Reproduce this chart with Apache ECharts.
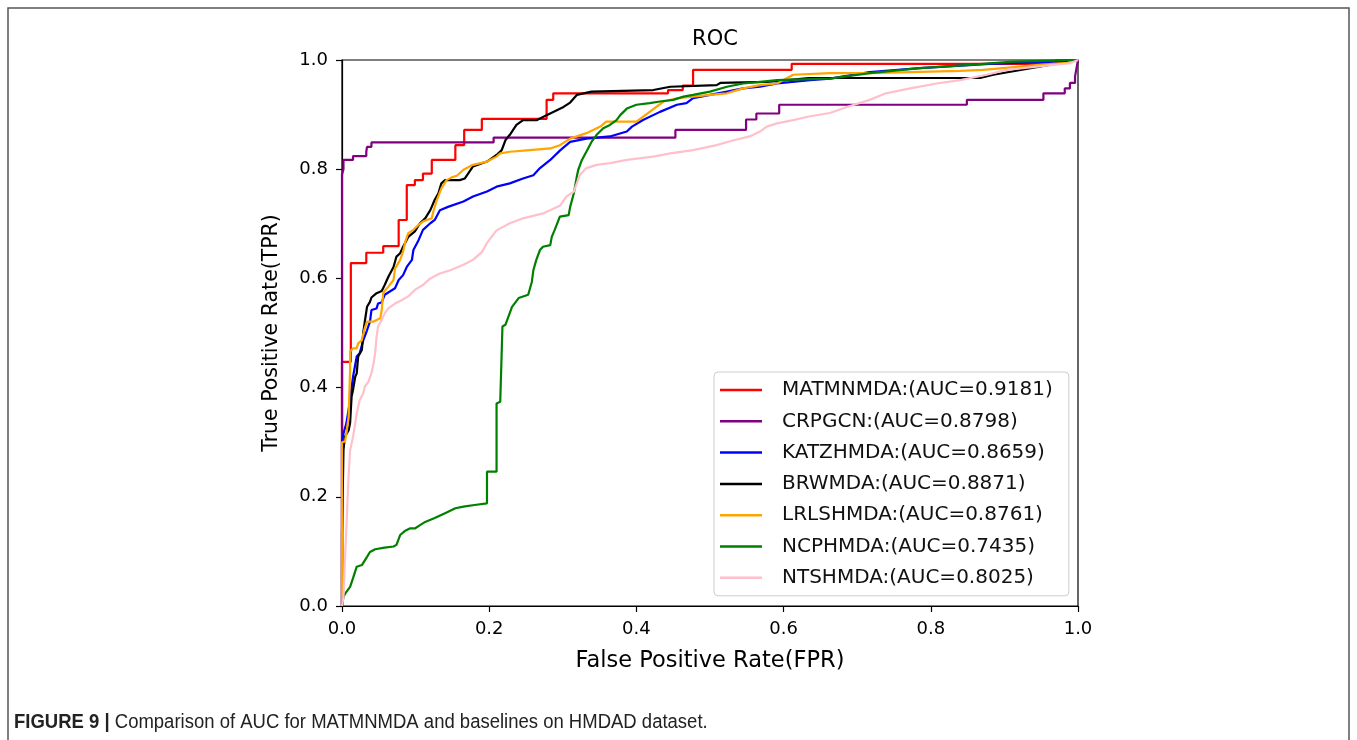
<!DOCTYPE html>
<html><head><meta charset="utf-8">
<script src="https://cdn.jsdelivr.net/npm/echarts@6/dist/echarts.min.js"></script>
<style>html,body{margin:0;padding:0;background:#fff}#c{width:1357px;height:740px}</style>
</head><body><div id="c"></div>
<script>
const axisTicks = [0, 0.2, 0.4, 0.6, 0.8, 1.0];
const seriesNames = ['MATMNMDA:(AUC=0.9181)','CRPGCN:(AUC=0.8798)','KATZHMDA:(AUC=0.8659)','BRWMDA:(AUC=0.8871)','LRLSHMDA:(AUC=0.8761)','NCPHMDA:(AUC=0.7435)','NTSHMDA:(AUC=0.8025)'];
const seriesColors = ['#ff0000','#800080','#0000ff','#000000','#ffa500','#008000','#ffc0cb'];

const MATMNMDA = [[0,0],[0,0.447],[0.012,0.447],[0.012,0.628],[0.033,0.628],[0.033,0.647],[0.056,0.647],[0.056,0.659],[0.077,0.659],[0.077,0.707],[0.088,0.707],[0.088,0.771],[0.099,0.771],[0.099,0.780],[0.110,0.780],[0.110,0.792],[0.122,0.792],[0.122,0.817],[0.154,0.817],[0.154,0.844],[0.166,0.844],[0.166,0.872],[0.190,0.872],[0.190,0.892],[0.278,0.892],[0.278,0.927],[0.287,0.927],[0.287,0.939],[0.443,0.939],[0.443,0.945],[0.463,0.945],[0.463,0.953],[0.477,0.953],[0.477,0.982],[0.611,0.982],[0.611,0.993],[0.97,0.993],[0.97,1],[1,1]];
const CRPGCN = [[0,0],[0,0.79],[0.002,0.80],[0.002,0.817],[0.015,0.817],[0.015,0.824],[0.033,0.824],[0.033,0.832],[0.034,0.832],[0.034,0.841],[0.040,0.841],[0.040,0.849],[0.206,0.849],[0.206,0.858],[0.453,0.858],[0.453,0.872],[0.549,0.872],[0.549,0.891],[0.563,0.891],[0.563,0.902],[0.594,0.902],[0.594,0.918],[0.849,0.918],[0.849,0.927],[0.953,0.927],[0.953,0.939],[0.982,0.939],[0.982,0.948],[0.989,0.948],[0.989,0.958],[0.996,0.958],[0.996,0.97],[1,1]];
const KATZHMDA = [[0,0],[0,0.30],[0.002,0.316],[0.006,0.335],[0.011,0.377],[0.015,0.42],[0.020,0.457],[0.024,0.463],[0.029,0.487],[0.034,0.505],[0.038,0.521],[0.040,0.542],[0.047,0.545],[0.049,0.554],[0.054,0.556],[0.058,0.570],[0.065,0.576],[0.072,0.582],[0.077,0.597],[0.083,0.606],[0.088,0.621],[0.095,0.634],[0.097,0.652],[0.104,0.670],[0.110,0.689],[0.120,0.701],[0.126,0.707],[0.133,0.725],[0.144,0.731],[0.165,0.741],[0.178,0.750],[0.197,0.759],[0.210,0.768],[0.228,0.774],[0.246,0.783],[0.260,0.789],[0.269,0.802],[0.283,0.817],[0.296,0.834],[0.310,0.850],[0.332,0.856],[0.364,0.860],[0.387,0.869],[0.394,0.878],[0.409,0.890],[0.432,0.905],[0.455,0.918],[0.468,0.921],[0.477,0.930],[0.500,0.936],[0.523,0.942],[0.545,0.948],[0.568,0.951],[0.591,0.957],[0.636,0.963],[0.663,0.966],[0.717,0.978],[0.785,0.985],[0.880,0.993],[0.989,0.998],[1,1]];
const BRWMDA = [[0,0],[0,0.13],[0.002,0.286],[0.004,0.310],[0.009,0.322],[0.011,0.335],[0.013,0.383],[0.015,0.396],[0.018,0.420],[0.020,0.426],[0.022,0.457],[0.027,0.469],[0.029,0.502],[0.031,0.521],[0.034,0.548],[0.038,0.557],[0.040,0.565],[0.047,0.573],[0.054,0.577],[0.058,0.588],[0.063,0.603],[0.070,0.621],[0.074,0.640],[0.079,0.646],[0.083,0.658],[0.090,0.676],[0.099,0.686],[0.106,0.701],[0.113,0.710],[0.120,0.725],[0.126,0.744],[0.131,0.756],[0.135,0.774],[0.140,0.780],[0.160,0.780],[0.167,0.783],[0.178,0.805],[0.197,0.814],[0.210,0.826],[0.217,0.835],[0.222,0.853],[0.228,0.863],[0.237,0.881],[0.246,0.890],[0.265,0.890],[0.278,0.899],[0.301,0.914],[0.310,0.922],[0.319,0.936],[0.339,0.942],[0.423,0.945],[0.446,0.951],[0.509,0.954],[0.514,0.958],[0.577,0.960],[0.605,0.963],[0.634,0.967],[0.867,0.967],[0.885,0.973],[1,1]];
const LRLSHMDA = [[0,0],[0,0.30],[0.004,0.301],[0.006,0.316],[0.009,0.347],[0.011,0.432],[0.011,0.466],[0.015,0.472],[0.020,0.472],[0.022,0.481],[0.027,0.487],[0.031,0.509],[0.034,0.521],[0.043,0.521],[0.052,0.527],[0.054,0.542],[0.056,0.573],[0.058,0.577],[0.063,0.585],[0.070,0.597],[0.072,0.618],[0.079,0.634],[0.083,0.649],[0.086,0.667],[0.090,0.683],[0.097,0.689],[0.104,0.698],[0.110,0.704],[0.115,0.707],[0.122,0.710],[0.124,0.722],[0.129,0.744],[0.135,0.765],[0.142,0.780],[0.149,0.785],[0.156,0.788],[0.165,0.799],[0.178,0.808],[0.197,0.814],[0.210,0.823],[0.215,0.829],[0.228,0.832],[0.255,0.835],[0.283,0.838],[0.296,0.844],[0.310,0.856],[0.332,0.866],[0.351,0.878],[0.359,0.887],[0.400,0.887],[0.418,0.905],[0.437,0.924],[0.455,0.930],[0.477,0.933],[0.500,0.936],[0.523,0.939],[0.545,0.948],[0.568,0.954],[0.591,0.957],[0.613,0.973],[0.663,0.976],[0.717,0.976],[0.840,0.980],[0.871,0.982],[0.948,0.991],[0.985,0.995],[1,1]];
const NCPHMDA = [[0,0],[0.002,0.017],[0.006,0.026],[0.011,0.035],[0.015,0.051],[0.020,0.072],[0.027,0.075],[0.034,0.090],[0.038,0.099],[0.045,0.104],[0.058,0.107],[0.070,0.109],[0.074,0.112],[0.079,0.130],[0.086,0.138],[0.092,0.142],[0.099,0.142],[0.106,0.148],[0.113,0.154],[0.126,0.161],[0.140,0.170],[0.154,0.179],[0.165,0.182],[0.180,0.185],[0.197,0.188],[0.197,0.246],[0.210,0.246],[0.210,0.371],[0.215,0.374],[0.218,0.512],[0.222,0.515],[0.231,0.548],[0.240,0.564],[0.253,0.570],[0.258,0.594],[0.260,0.615],[0.264,0.634],[0.269,0.652],[0.273,0.658],[0.283,0.661],[0.285,0.676],[0.289,0.689],[0.296,0.713],[0.308,0.716],[0.310,0.731],[0.315,0.756],[0.319,0.786],[0.321,0.799],[0.326,0.817],[0.332,0.832],[0.339,0.850],[0.346,0.863],[0.355,0.875],[0.364,0.881],[0.373,0.890],[0.378,0.899],[0.387,0.911],[0.400,0.918],[0.418,0.921],[0.432,0.924],[0.450,0.927],[0.464,0.933],[0.477,0.936],[0.500,0.942],[0.523,0.951],[0.545,0.957],[0.568,0.960],[0.591,0.963],[0.613,0.964],[0.663,0.966],[0.717,0.976],[0.785,0.985],[0.853,0.991],[0.912,0.997],[1,1]];
const NTSHMDA = [[0,0],[0.002,0.017],[0.004,0.084],[0.006,0.145],[0.009,0.240],[0.011,0.285],[0.015,0.310],[0.018,0.335],[0.020,0.353],[0.024,0.377],[0.029,0.390],[0.031,0.402],[0.036,0.411],[0.040,0.426],[0.043,0.445],[0.045,0.463],[0.047,0.493],[0.049,0.512],[0.054,0.524],[0.058,0.536],[0.063,0.545],[0.072,0.554],[0.081,0.560],[0.090,0.567],[0.099,0.579],[0.110,0.588],[0.120,0.600],[0.133,0.609],[0.147,0.615],[0.165,0.625],[0.178,0.634],[0.190,0.648],[0.197,0.665],[0.210,0.688],[0.228,0.701],[0.246,0.710],[0.273,0.719],[0.296,0.733],[0.305,0.750],[0.315,0.759],[0.319,0.774],[0.323,0.789],[0.332,0.802],[0.346,0.808],[0.364,0.811],[0.387,0.817],[0.423,0.823],[0.446,0.829],[0.477,0.835],[0.509,0.844],[0.532,0.853],[0.554,0.860],[0.568,0.869],[0.577,0.878],[0.591,0.884],[0.613,0.890],[0.636,0.897],[0.663,0.903],[0.686,0.914],[0.717,0.927],[0.739,0.939],[0.772,0.948],[0.808,0.957],[0.840,0.963],[0.876,0.973],[0.903,0.982],[0.944,0.988],[0.989,0.994],[1,1]];

const allData = [MATMNMDA, CRPGCN, KATZHMDA, BRWMDA, LRLSHMDA, NCPHMDA, NTSHMDA];
const FONT = 'DejaVu Sans';

const chart = echarts.init(document.getElementById('c'), null, {renderer: 'canvas'});
const axisCommon = {
  type: 'value', min: 0, max: 1, interval: 0.2,
  axisLine: {show: true, lineStyle: {color: '#000', width: 1.2}},
  axisTick: {show: true, inside: false, length: 6, lineStyle: {color: '#000', width: 1.2}},
  splitLine: {show: false},
  axisLabel: {color: '#000', fontFamily: FONT, fontSize: 18, margin: 14, formatter: v => v.toFixed(1)},
  nameLocation: 'middle'
};
chart.setOption({
  animation: false,
  backgroundColor: '#fff',
  title: {text: 'ROC', left: 710, top: 24, textAlign: 'center',
    textStyle: {fontFamily: FONT, fontSize: 21, fontWeight: 'normal', color: '#000'}},
  grid: {left: 342, right: 279, top: 60, bottom: 134, show: true, borderColor: '#000', borderWidth: 1.2, containLabel: false},
  xAxis: Object.assign({}, axisCommon, {name: 'False Positive Rate(FPR)', nameGap: 44,
    nameTextStyle: {color: '#000', fontFamily: FONT, fontSize: 22.5}}),
  yAxis: Object.assign({}, axisCommon, {name: 'True Positive Rate(TPR)', nameGap: 60,
    nameTextStyle: {color: '#000', fontFamily: FONT, fontSize: 20.5}}),
  legend: {
    orient: 'vertical', left: 714, top: 372,
    padding: [7, 16, 7, 6],
    itemWidth: 42, itemHeight: 2.5, itemGap: 9.3, icon: 'rect',
    borderColor: '#cccccc', borderWidth: 1, borderRadius: 4,
    backgroundColor: 'rgba(255,255,255,0.85)',
    textStyle: {fontFamily: FONT, fontSize: 20, color: '#111', lineHeight: 22, padding: [0, 0, 0, 15]},
    data: seriesNames
  },
  graphic: [
    {type: 'rect', x: 8, y: 8, shape: {width: 1341, height: 760}, style: {fill: 'none', stroke: '#555', lineWidth: 1.5}, silent: true, z: -1},
    {type: 'text', x: 14, y: 722, scaleX: 0.925, scaleY: 1, style: {
      text: '{b|FIGURE 9 | }{r|Comparison of AUC for MATMNMDA and baselines on HMDAD dataset.}',
      verticalAlign: 'middle',
      rich: {
        b: {fontFamily: 'Liberation Sans', fontWeight: 'bold', fontSize: 20, fill: '#222'},
        r: {fontFamily: 'Liberation Sans', fontSize: 20, fill: '#222'}
      }}}
  ],
  series: allData.map((d, i) => ({
    name: seriesNames[i], type: 'line', data: d, showSymbol: false, symbol: 'none',
    lineStyle: {color: seriesColors[i], width: 2.2}, itemStyle: {color: seriesColors[i]},
    clip: true
  }))
});
</script></body></html>
